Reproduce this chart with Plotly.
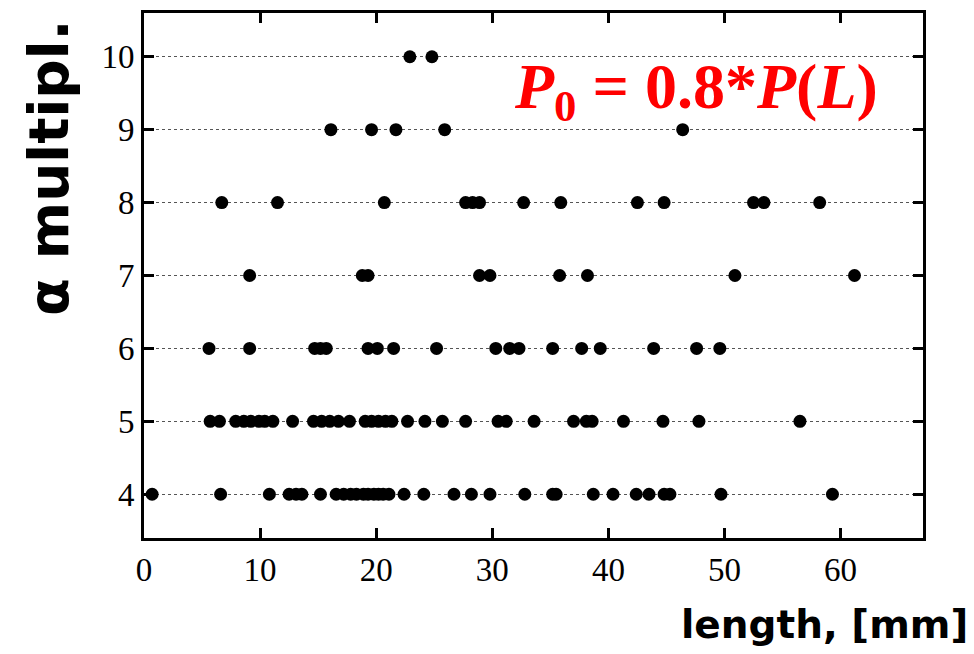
import plotly.graph_objects as go

# alpha multiplicity levels and the lengths (mm) of the points on each level
row4 = [0.7, 6.6, 10.8, 12.5, 13.1, 13.6, 15.2, 16.55, 17.2, 17.8, 18.3, 18.9, 19.3, 19.8,
        20.2, 20.6, 21.1, 22.4, 24.1, 26.7, 28.2, 29.8, 32.8, 35.2, 35.5, 38.7, 40.4, 42.4,
        43.5, 44.8, 45.3, 49.7, 59.3]
row5 = [5.7, 6.5, 7.9, 8.6, 9.2, 9.9, 10.4, 11.1, 12.8, 14.6, 15.3, 16.0, 16.75, 17.7,
        19.05, 19.6, 20.2, 20.8, 21.35, 22.7, 24.2, 25.7, 27.7, 30.5, 31.2, 33.6, 37.0,
        38.1, 38.6, 41.3, 44.7, 47.8, 56.5]
row6 = [5.6, 9.1, 14.7, 15.2, 15.7, 19.3, 20.1, 21.5, 25.2, 30.3, 31.5, 32.3, 35.2, 37.7,
        39.3, 43.9, 47.6, 49.6]
row7 = [9.1, 18.8, 19.3, 28.9, 29.8, 35.8, 38.2, 50.9, 61.2]
row8 = [6.7, 11.5, 20.7, 27.7, 28.3, 28.9, 32.7, 35.9, 42.5, 44.8, 52.5, 53.4, 58.2]
row9 = [16.1, 19.6, 21.7, 25.9, 46.4]
row10 = [22.9, 24.8]

levels = [4, 5, 6, 7, 8, 9, 10]
rows = [row4, row5, row6, row7, row8, row9, row10]
x_ticks = [0, 10, 20, 30, 40, 50, 60]

xs, ys = [], []
for lvl, r in zip(levels, rows):
    xs += r
    ys += [lvl] * len(r)

fig = go.Figure()
fig.add_trace(go.Scatter(
    x=xs, y=ys, mode="markers",
    marker=dict(size=13, color="black", line=dict(width=0)),
    showlegend=False, hoverinfo="x+y"))

tick_font = dict(family="Liberation Serif", size=33, color="black")

fig.update_xaxes(
    range=[0, 67.1], tickvals=x_ticks, ticks="inside", ticklen=10, tickwidth=3,
    tickcolor="black", showline=True, linewidth=3, linecolor="black",
    mirror="ticks", showgrid=False, zeroline=False, tickfont=tick_font)
fig.update_yaxes(
    range=[3.4, 10.6], tickvals=levels, ticks="inside", ticklen=10, tickwidth=3,
    tickcolor="black", showline=True, linewidth=3, linecolor="black",
    mirror="ticks", showgrid=True, gridcolor="#555555", gridwidth=1.2, griddash="dot",
    zeroline=False, tickfont=tick_font)

fig.add_annotation(
    text="<b><i>P</i><sub>0</sub> = 0.8*<i>P</i>(<i>L</i>)</b>",
    xref="paper", yref="paper", x=0.945, y=0.852, xanchor="right", yanchor="middle",
    showarrow=False, font=dict(family="Liberation Serif", size=64, color="#ff0000"))

fig.add_annotation(
    text="<b>α multipl.</b>", textangle=-90,
    xref="paper", yref="paper", x=-0.121, y=0.706, xanchor="center", yanchor="middle",
    showarrow=False, font=dict(family="DejaVu Sans", size=55, color="black"))

fig.add_annotation(
    text="<b>length, [mm]</b>",
    xref="paper", yref="paper", x=1.06, y=-0.165, xanchor="right", yanchor="middle",
    showarrow=False, font=dict(family="DejaVu Sans", size=39, color="black"))

fig.update_layout(
    width=974, height=654, autosize=False,
    margin=dict(l=136, r=59, t=2, b=124),
    paper_bgcolor="white", plot_bgcolor="white")

fig.write_html("out.html")
